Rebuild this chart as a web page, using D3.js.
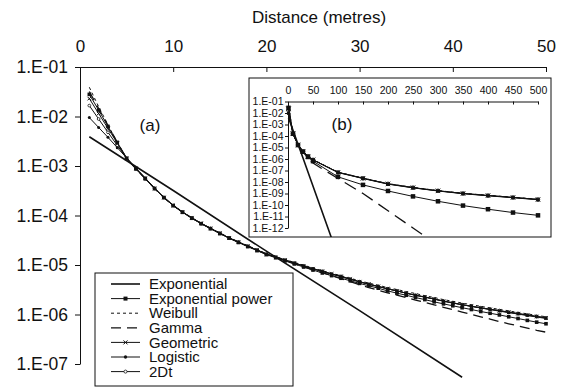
<!DOCTYPE html>
<html>
<head>
<meta charset="utf-8">
<script src="https://cdn.jsdelivr.net/npm/d3@7"></script>
<style>
body { margin: 0; background: #fff; }
svg { display: block; font-family: "Liberation Sans", Arial, sans-serif; }
</style>
</head>
<body>
<div id="chart"></div>
<script>

// distances (metres) for the main panel
var distance = [1,2,3,4,5,6,7,8,9,10,11,12,13,14,15,16,17,18,19,20,21,22,23,24,25,
  26,27,28,29,30,31,32,33,34,35,36,37,38,39,40,41,42,43,44,45,46,47,48,49,50];

var expDist = [1, 10, 20, 30, 41, 100];
var exponential = [3.9e-3, 3.2e-4, 1.9e-5, 1.2e-6, 5.4e-8, 3.5e-15];

var expPower = [2.8e-2,1.35e-2,6.3e-3,3.0e-3,1.4e-3,8.7e-4,5.5e-4,3.5e-4,2.3e-4,1.58e-4,
  1.16e-4,8.8e-5,6.8e-5,5.4e-5,4.3e-5,3.5e-5,2.85e-5,2.35e-5,1.95e-5,1.62e-5,
  1.4e-5,1.21e-5,1.05e-5,9.1e-6,7.9e-6,6.9e-6,6.1e-6,5.4e-6,4.8e-6,4.25e-6,
  3.8e-6,3.4e-6,3.0e-6,2.7e-6,2.45e-6,2.2e-6,2.0e-6,1.8e-6,1.64e-6,1.5e-6,
  1.37e-6,1.26e-6,1.15e-6,1.06e-6,9.8e-7,9.0e-7,8.3e-7,7.6e-7,7.0e-7,6.5e-7];

var weibull = [3.9e-2,1.58e-2,6.8e-3,3.0e-3,1.42e-3,8.7e-4,5.5e-4,3.5e-4,2.3e-4,1.6e-4,
  1.17e-4,8.9e-5,6.9e-5,5.5e-5,4.4e-5,3.6e-5,2.95e-5,2.45e-5,2.05e-5,1.7e-5,
  1.48e-5,1.29e-5,1.13e-5,9.9e-6,8.7e-6,7.7e-6,6.8e-6,6.1e-6,5.4e-6,4.8e-6,
  4.3e-6,3.9e-6,3.5e-6,3.2e-6,2.9e-6,2.65e-6,2.4e-6,2.2e-6,2.0e-6,1.85e-6,
  1.7e-6,1.58e-6,1.46e-6,1.36e-6,1.27e-6,1.18e-6,1.1e-6,1.03e-6,9.6e-7,9.0e-7];

var gamma = [3.2e-2,1.45e-2,6.6e-3,3.0e-3,1.42e-3,8.8e-4,5.6e-4,3.5e-4,2.3e-4,1.6e-4,
  1.17e-4,8.9e-5,6.9e-5,5.5e-5,4.4e-5,3.5e-5,2.9e-5,2.4e-5,2.0e-5,1.66e-5,
  1.43e-5,1.23e-5,1.06e-5,9.2e-6,8.0e-6,7.0e-6,6.1e-6,5.3e-6,4.6e-6,4.0e-6,
  3.5e-6,3.1e-6,2.75e-6,2.45e-6,2.2e-6,1.95e-6,1.75e-6,1.57e-6,1.4e-6,1.25e-6,
  1.12e-6,1.0e-6,9.0e-7,8.1e-7,7.2e-7,6.5e-7,5.9e-7,5.3e-7,4.8e-7,4.4e-7];

var geometric = [2.3e-2,1.15e-2,5.75e-3,2.9e-3,1.45e-3,9.0e-4,5.7e-4,3.5e-4,2.3e-4,1.6e-4,
  1.18e-4,9.0e-5,7.0e-5,5.5e-5,4.4e-5,3.5e-5,2.9e-5,2.4e-5,2.0e-5,1.66e-5,
  1.45e-5,1.26e-5,1.1e-5,9.6e-6,8.4e-6,7.5e-6,6.6e-6,5.9e-6,5.2e-6,4.6e-6,
  4.1e-6,3.7e-6,3.3e-6,3.0e-6,2.7e-6,2.45e-6,2.25e-6,2.05e-6,1.85e-6,1.7e-6,
  1.57e-6,1.46e-6,1.36e-6,1.27e-6,1.19e-6,1.11e-6,1.04e-6,9.7e-7,9.1e-7,8.5e-7];

var logistic = [9.5e-3,6.0e-3,3.8e-3,2.35e-3,1.45e-3,9.0e-4,5.7e-4,3.6e-4,2.35e-4,1.6e-4,
  1.17e-4,8.9e-5,6.9e-5,5.5e-5,4.4e-5,3.5e-5,2.9e-5,2.4e-5,2.0e-5,1.65e-5,
  1.44e-5,1.25e-5,1.09e-5,9.5e-6,8.3e-6,7.4e-6,6.5e-6,5.8e-6,5.1e-6,4.55e-6,
  4.05e-6,3.65e-6,3.3e-6,3.0e-6,2.7e-6,2.45e-6,2.25e-6,2.05e-6,1.87e-6,1.72e-6,
  1.58e-6,1.46e-6,1.35e-6,1.26e-6,1.17e-6,1.09e-6,1.02e-6,9.5e-7,8.9e-7,8.3e-7];

var twoDt = [1.66e-2,8.9e-3,4.8e-3,2.6e-3,1.45e-3,8.9e-4,5.6e-4,3.5e-4,2.3e-4,1.6e-4,
  1.17e-4,8.9e-5,6.9e-5,5.5e-5,4.4e-5,3.5e-5,2.9e-5,2.4e-5,2.0e-5,1.66e-5,
  1.45e-5,1.26e-5,1.1e-5,9.6e-6,8.4e-6,7.5e-6,6.6e-6,5.9e-6,5.2e-6,4.6e-6,
  4.1e-6,3.7e-6,3.3e-6,3.0e-6,2.7e-6,2.45e-6,2.25e-6,2.05e-6,1.87e-6,1.72e-6,
  1.58e-6,1.47e-6,1.37e-6,1.28e-6,1.2e-6,1.12e-6,1.05e-6,9.8e-7,9.2e-7,8.6e-7];

// inset (b): near points come from the arrays above, far points below
var insetNear = [1, 10, 20, 30, 40, 50];
var farDist = [100, 150, 200, 250, 300, 350, 400, 450, 500];
var expPowerFar = [2.8e-8,5.6e-9,1.66e-9,5.6e-10,2.1e-10,8.9e-11,4.3e-11,2.2e-11,1.26e-11];
var weibullFar = [7.2e-8,2.2e-8,7.2e-9,3.4e-9,1.8e-9,1.05e-9,7.0e-10,4.8e-10,3.2e-10];
var gammaFar = [2.0e-8,1.0e-9,3.2e-11,1.0e-12,3.2e-14];
var geometricFar = [6.9e-8,2.1e-8,6.8e-9,3.2e-9,1.7e-9,1.0e-9,6.6e-10,4.5e-10,3.0e-10];
var logisticFar = [6.6e-8,2.0e-8,6.5e-9,3.1e-9,1.65e-9,9.6e-10,6.3e-10,4.3e-10,2.85e-10];
var twoDtFar = [7.0e-8,2.15e-8,7.0e-9,3.3e-9,1.75e-9,1.02e-9,6.8e-10,4.6e-10,3.1e-10];

var xTicks = [0, 10, 20, 30, 40, 50];
var yTicks = [1e-1, 1e-2, 1e-3, 1e-4, 1e-5, 1e-6, 1e-7];
var xTicksInset = [0, 50, 100, 150, 200, 250, 300, 350, 400, 450, 500];
var yTicksInset = [1e-1,1e-2,1e-3,1e-4,1e-5,1e-6,1e-7,1e-8,1e-9,1e-10,1e-11,1e-12];

var series = [
  { name: "Exponential", vals: null, far: null, dash: null, dashIn: null, mark: null, w: 1.6 },
  { name: "Exponential power", vals: expPower, far: expPowerFar, dash: null, dashIn: null, mark: "square", w: 1 },
  { name: "Weibull", vals: weibull, far: weibullFar, dash: "3,3", dashIn: "3,3", mark: null, w: 1 },
  { name: "Gamma", vals: gamma, far: gammaFar, dash: "10,6", dashIn: "13,7", mark: null, w: 1.3 },
  { name: "Geometric", vals: geometric, far: geometricFar, dash: null, dashIn: null, mark: "x", w: 1 },
  { name: "Logistic", vals: logistic, far: logisticFar, dash: null, dashIn: null, mark: "dot", w: 1 },
  { name: "2Dt", vals: twoDt, far: twoDtFar, dash: null, dashIn: null, mark: "ring", w: 1 }
];

var W = 568, H = 389;
var svg = d3.select("#chart").append("svg").attr("width", W).attr("height", H);

var fmtE = function (d) {
  var e = Math.round(-Math.log10(d));
  return "1.E-" + (e < 10 ? "0" : "") + e;
};

function drawMarker(g, type, cx, cy, s) {
  if (type === "square") {
    g.append("rect").attr("x", cx - s / 2).attr("y", cy - s / 2)
      .attr("width", s).attr("height", s).attr("fill", "#111");
  } else if (type === "x") {
    var h = s / 2;
    g.append("path")
      .attr("d", "M" + (cx - h) + "," + (cy - h) + "L" + (cx + h) + "," + (cy + h) +
                 "M" + (cx - h) + "," + (cy + h) + "L" + (cx + h) + "," + (cy - h))
      .attr("stroke", "#111").attr("stroke-width", 1);
  } else if (type === "dot") {
    g.append("circle").attr("cx", cx).attr("cy", cy).attr("r", s / 2.4).attr("fill", "#111");
  } else if (type === "ring") {
    g.append("circle").attr("cx", cx).attr("cy", cy).attr("r", s / 2.6)
      .attr("fill", "#fff").attr("stroke", "#111").attr("stroke-width", 0.8);
  }
}

function drawSeries(g, xs, ys, pts, s, msize, dash) {
  var line = d3.line().x(function (d) { return xs(d[0]); }).y(function (d) { return ys(d[1]); });
  g.append("path").datum(pts)
    .attr("d", line)
    .attr("fill", "none")
    .attr("stroke", "#111")
    .attr("stroke-width", s.w)
    .attr("stroke-dasharray", dash);
  if (s.mark) {
    pts.forEach(function (p) { drawMarker(g, s.mark, xs(p[0]), ys(p[1]), msize); });
  }
}

function styleAxis(g, size) {
  g.selectAll(".domain").attr("stroke", "#111");
  g.selectAll(".tick line").attr("stroke", "#111");
  g.selectAll("text").attr("fill", "#111").style("font-size", size + "px")
    .style("font-family", "'Liberation Sans', Arial, sans-serif");
}

// ---------- main panel (a)
var x = d3.scaleLinear().domain([0, 50]).range([80, 546]);
var y = d3.scaleLog().domain([1e-7, 1e-1]).range([364, 67]);

svg.append("text")
  .attr("x", 319).attr("y", 23)
  .attr("text-anchor", "middle")
  .style("font-size", "17px").attr("fill", "#111")
  .text("Distance (metres)");

var gx = svg.append("g").attr("transform", "translate(0,67)")
  .call(d3.axisTop(x).tickValues(xTicks).tickSizeInner(-5).tickSizeOuter(0).tickPadding(15));
styleAxis(gx, 17);

var gy = svg.append("g").attr("transform", "translate(80,0)")
  .call(d3.axisLeft(y).tickValues(yTicks).tickFormat(fmtE).tickSize(5).tickSizeOuter(0).tickPadding(7));
styleAxis(gy, 17.5);

// draw from the last series back so the open circles sit underneath
var plot = svg.append("g");
series.slice().reverse().forEach(function (s) {
  var pts;
  if (s.name === "Exponential") {
    pts = expDist.slice(0, 5).map(function (d, i) { return [d, exponential[i]]; });
  } else {
    pts = distance.map(function (d, i) { return [d, s.vals[i]]; });
  }
  drawSeries(plot, x, y, pts, s, 3.6, s.dash);
});

svg.append("text").attr("x", 150).attr("y", 131).attr("text-anchor", "middle")
  .style("font-size", "17px").attr("fill", "#111").text("(a)");

// ---------- inset panel (b)
var box = { x: 249, y: 78, w: 302, h: 159 };
svg.append("rect").attr("x", box.x).attr("y", box.y).attr("width", box.w).attr("height", box.h)
  .attr("fill", "#fff").attr("stroke", "#111").attr("stroke-width", 1);

svg.append("clipPath").attr("id", "insetClip").append("rect")
  .attr("x", box.x).attr("y", box.y).attr("width", box.w).attr("height", box.h);

var xi = d3.scaleLinear().domain([0, 500]).range([288, 538]);
var yi = d3.scaleLog().domain([1e-12, 1e-1]).range([228, 101.5]);

var gxi = svg.append("g").attr("transform", "translate(0,101.5)")
  .call(d3.axisTop(xi).tickValues(xTicksInset).tickSizeInner(-3).tickSizeOuter(0).tickPadding(8));
styleAxis(gxi, 10.5);

var gyi = svg.append("g").attr("transform", "translate(288,0)")
  .call(d3.axisLeft(yi).tickValues(yTicksInset).tickFormat(fmtE).tickSize(3).tickSizeOuter(0).tickPadding(1.5));
styleAxis(gyi, 10.5);

var inset = svg.append("g").attr("clip-path", "url(#insetClip)");
series.slice().reverse().forEach(function (s) {
  var pts;
  if (s.name === "Exponential") {
    pts = expDist.map(function (d, i) { return [d, exponential[i]]; });
  } else {
    pts = insetNear.map(function (d) { return [d, s.vals[distance.indexOf(d)]]; })
      .concat(s.far.map(function (v, i) { return [farDist[i], v]; }));
  }
  drawSeries(inset, xi, yi, pts, s, 4.5, s.dashIn);
});

svg.append("text").attr("x", 342).attr("y", 130).attr("text-anchor", "middle")
  .style("font-size", "17px").attr("fill", "#111").text("(b)");

// ---------- legend
var leg = svg.append("g");
leg.append("rect").attr("x", 95).attr("y", 273).attr("width", 198).attr("height", 113)
  .attr("fill", "#fff").attr("stroke", "#111").attr("stroke-width", 1);

series.forEach(function (s, i) {
  var cy = 284 + i * 14.6;
  leg.append("line").attr("x1", 111).attr("x2", 140).attr("y1", cy).attr("y2", cy)
    .attr("stroke", "#111").attr("stroke-width", s.w).attr("stroke-dasharray", s.dash);
  if (s.mark) drawMarker(leg, s.mark, 125.5, cy, 4);
  leg.append("text").attr("x", 149).attr("y", cy).attr("dy", "0.35em")
    .style("font-size", "15px").attr("fill", "#111").text(s.name);
});

</script>
</body>
</html>
